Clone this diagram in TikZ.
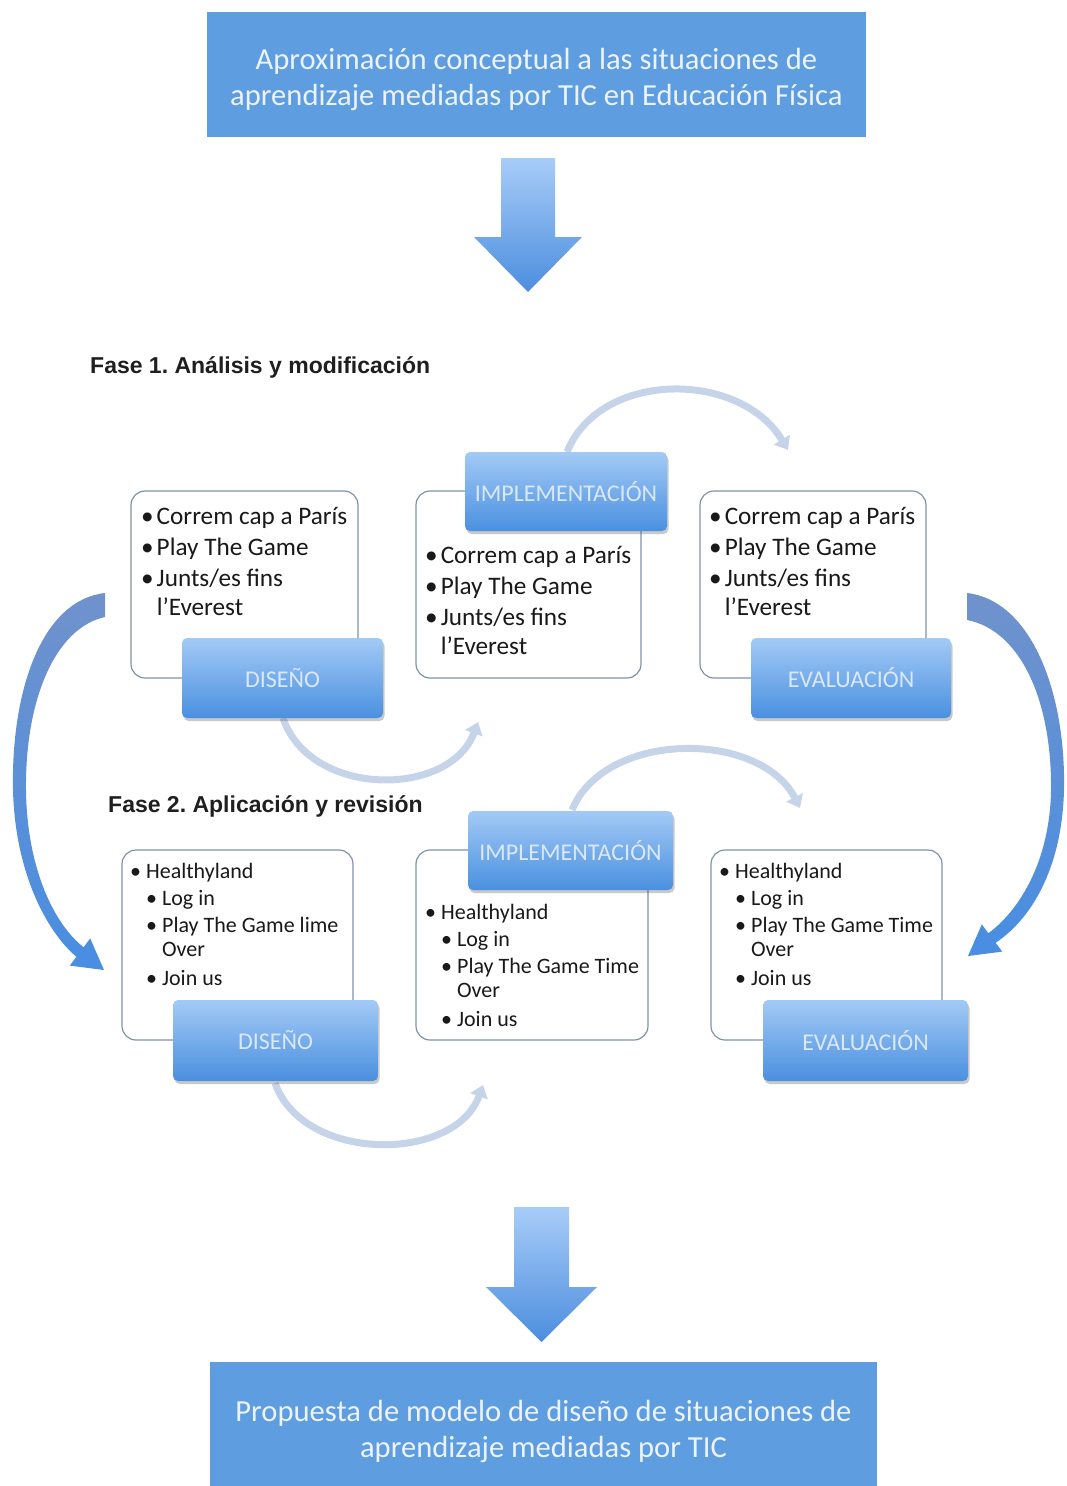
\documentclass[tikz,border=0pt]{standalone}
\usepackage{fontspec}
\setmainfont{Carlito}
\newfontfamily\headfont{Liberation Sans}
\usetikzlibrary{arrows.meta,shadows}
\definecolor{boxblue}{RGB}{94,157,224}
\definecolor{titletext}{RGB}{236,243,251}
\definecolor{labtop}{RGB}{163,202,246}
\definecolor{labbot}{RGB}{74,144,224}
\definecolor{labtext}{RGB}{218,232,249}
\definecolor{listborder}{RGB}{128,146,170}
\definecolor{listtextcol}{RGB}{25,25,25}
\definecolor{arcblue}{RGB}{198,212,234}
\definecolor{bigtop}{RGB}{112,146,204}
\definecolor{bigbot}{RGB}{72,142,226}
\definecolor{dtop}{RGB}{168,204,248}
\definecolor{dbot}{RGB}{76,142,222}
\newcommand\listfontA{\fontsize{25.2}{29}\selectfont}
\newcommand\listfontB{\fontsize{22}{24}\selectfont}
\frenchspacing
\begin{document}
\begin{tikzpicture}[x=1pt,y=-1pt,
  titlebox/.style={fill=boxblue, draw=none, text=titletext, align=center,
    font=\fontsize{30.6}{36}\selectfont, inner sep=0pt},
  listbox/.style={draw=listborder, line width=1.2pt, rounded corners=14pt, fill=white, inner sep=0pt},
  listtext/.style={anchor=north west, align=left, inner sep=0pt, text=listtextcol},
  labelbox/.style={rounded corners=5pt, top color=labtop, bottom color=labbot, draw=none,
    text=labtext, font=\fontsize{24}{28}\selectfont, inner sep=0pt,
    drop shadow={shadow xshift=1.5pt, shadow yshift=-3pt, opacity=0.3, fill=black!70}},
  cyc/.style={line width=7pt, draw=arcblue, -{Triangle[width=18pt,length=12pt]}},
  heading/.style={anchor=west, inner sep=0pt, font=\frenchspacing\headfont\bfseries\fontsize{23}{27}\selectfont, text=black!88}
]
\useasboundingbox (0,0) rectangle (1067,1486);

% title and first down arrow
\fill[boxblue] (207,12) rectangle (866,137);
\node[titlebox] (top) at (536.5,79)
  {Aproximación conceptual a las situaciones de\\aprendizaje mediadas por TIC en Educación Física};
\shade[top color=dtop, bottom color=dbot]
  (501,158) -- (555,158) -- (555,237) -- (582,237) -- (528,292) -- (474,237) -- (501,237) -- cycle;

% headings
\node[heading] (h1) at (90,367) {Fase 1. Análisis y modificación};
\node[heading] (h2) at (108,806) {Fase 2. Aplicación y revisión};

% cycle arcs
\coordinate (a1s) at (567,452); \coordinate (a1e) at (788,450);
\coordinate (b1s) at (283,718); \coordinate (b1e) at (478,722);
\coordinate (a2s) at (572,810); \coordinate (a2e) at (800,808);
\coordinate (b2s) at (275,1083); \coordinate (b2e) at (483,1085);
\draw[cyc] (a1s) .. controls (600,370) and (740,370) .. (a1e);
\draw[cyc] (b1s) .. controls (310,798) and (450,798) .. (b1e);
\draw[cyc] (a2s) .. controls (605,730) and (760,730) .. (a2e);
\draw[cyc] (b2s) .. controls (303,1163) and (455,1163) .. (b2e);

% big side arrows
\shade[top color=bigtop, bottom color=bigbot]
  (105,593) .. controls (42,600) and (11,690) .. (13,790)
  .. controls (15,870) and (45,930) .. (76.4,956.8) -- (69.8,965.6) -- (104,970) -- (90.2,938.4) -- (83.6,947.2)
  .. controls (55,925) and (27,870) .. (26,790)
  .. controls (25,700) and (55,628) .. (105,617) -- cycle;
\shade[top color=bigtop, bottom color=bigbot]
  (967,593) .. controls (1030,600) and (1066,690) .. (1064,790)
  .. controls (1062,870) and (1030,920) .. (995.6,942.8) -- (1002.2,951.6) -- (968,956) -- (981.8,924.4) -- (988.4,933.2)
  .. controls (1020,910) and (1050,860) .. (1051,790)
  .. controls (1052,700) and (1020,630) .. (967,620) -- cycle;

% Phase 1
\node[listbox, minimum width=227pt, minimum height=187pt] (d1list) at (244.5,584.5) {};
\node[listbox, minimum width=225pt, minimum height=187pt] (i1list) at (528.5,584.5) {};
\node[listbox, minimum width=226pt, minimum height=187pt] (e1list) at (813,584.5) {};
\node[listtext, font=\listfontA] (d1text) at (141,507) {\textbullet\hspace{3pt}Correm cap a París\\[2pt]\textbullet\hspace{3pt}Play The Game\\[2pt]\textbullet\hspace{3pt}Junts/es fins\\\phantom{\textbullet\hspace{3pt}}l’Everest};
\node[listtext, font=\listfontA] (i1text) at (425,546) {\textbullet\hspace{3pt}Correm cap a París\\[2pt]\textbullet\hspace{3pt}Play The Game\\[2pt]\textbullet\hspace{3pt}Junts/es fins\\\phantom{\textbullet\hspace{3pt}}l’Everest};
\node[listtext, font=\listfontA] (e1text) at (709,507) {\textbullet\hspace{3pt}Correm cap a París\\[2pt]\textbullet\hspace{3pt}Play The Game\\[2pt]\textbullet\hspace{3pt}Junts/es fins\\\phantom{\textbullet\hspace{3pt}}l’Everest};
\node[labelbox, minimum width=201pt, minimum height=80pt] (d1lab) at (282.5,678) {DISEÑO};
\node[labelbox, minimum width=202pt, minimum height=79pt] (i1lab) at (566,491.5) {IMPLEMENTACIÓN};
\node[labelbox, minimum width=200pt, minimum height=80pt] (e1lab) at (851,678) {EVALUACIÓN};

% Phase 2
\node[listbox, minimum width=231pt, minimum height=190pt] (d2list) at (237.5,945) {};
\node[listbox, minimum width=232pt, minimum height=190pt] (i2list) at (532,945) {};
\node[listbox, minimum width=231pt, minimum height=190pt] (e2list) at (826.5,945) {};
\node[listtext, font=\listfontB] (d2text) at (130,863) {\textbullet\ Healthyland\\[3pt]\hspace*{16pt}\textbullet\ Log in\\[3pt]\hspace*{16pt}\textbullet\ Play The Game lime\\\hspace*{16pt}\phantom{\textbullet\ }Over\\[5pt]\hspace*{16pt}\textbullet\ Join us};
\node[listtext, font=\listfontB] (i2text) at (425,904) {\textbullet\ Healthyland\\[3pt]\hspace*{16pt}\textbullet\ Log in\\[3pt]\hspace*{16pt}\textbullet\ Play The Game Time\\\hspace*{16pt}\phantom{\textbullet\ }Over\\[5pt]\hspace*{16pt}\textbullet\ Join us};
\node[listtext, font=\listfontB] (e2text) at (719,863) {\textbullet\ Healthyland\\[3pt]\hspace*{16pt}\textbullet\ Log in\\[3pt]\hspace*{16pt}\textbullet\ Play The Game Time\\\hspace*{16pt}\phantom{\textbullet\ }Over\\[5pt]\hspace*{16pt}\textbullet\ Join us};
\node[labelbox, minimum width=205pt, minimum height=81pt] (d2lab) at (275.5,1040.5) {DISEÑO};
\node[labelbox, minimum width=205pt, minimum height=79pt] (i2lab) at (570.5,850.5) {IMPLEMENTACIÓN};
\node[labelbox, minimum width=205pt, minimum height=81pt] (e2lab) at (865.5,1040.5) {EVALUACIÓN};

% second down arrow and final box
\shade[top color=dtop, bottom color=dbot]
  (514,1207) -- (569,1207) -- (569,1287) -- (597,1287) -- (541.5,1342) -- (486,1287) -- (514,1287) -- cycle;
\fill[boxblue] (210,1362) rectangle (877,1490);
\node[titlebox] (bottom) at (543.5,1431)
  {Propuesta de modelo de diseño de situaciones de\\aprendizaje mediadas por TIC};
\end{tikzpicture}
\end{document}
